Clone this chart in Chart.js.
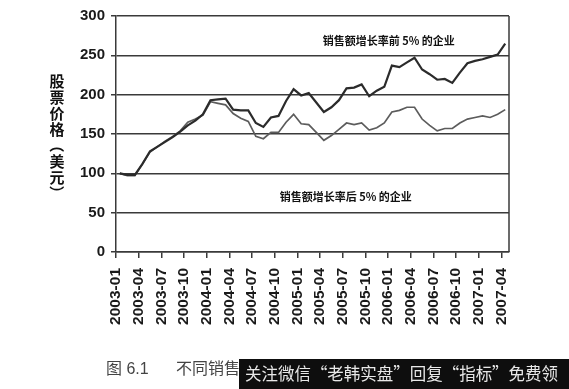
<!DOCTYPE html>
<html>
<head>
<meta charset="utf-8">
<script src="https://cdn.jsdelivr.net/npm/chart.js@4.4.1/dist/chart.umd.min.js"></script>
<style>
html, body { margin: 0; padding: 0; background: #fff; }
#chart { display: block; }
</style>
</head>
<body>
<canvas id="chart" width="569" height="389"></canvas>
<script>
const months = [
    '2003-01', '2003-02', '2003-03', '2003-04', '2003-05', '2003-06', '2003-07', '2003-08', '2003-09', '2003-10', '2003-11', '2003-12',
    '2004-01', '2004-02', '2004-03', '2004-04', '2004-05', '2004-06', '2004-07', '2004-08', '2004-09', '2004-10', '2004-11', '2004-12',
    '2005-01', '2005-02', '2005-03', '2005-04', '2005-05', '2005-06', '2005-07', '2005-08', '2005-09', '2005-10', '2005-11', '2005-12',
    '2006-01', '2006-02', '2006-03', '2006-04', '2006-05', '2006-06', '2006-07', '2006-08', '2006-09', '2006-10', '2006-11', '2006-12',
    '2007-01', '2007-02', '2007-03', '2007-04'
];

// top 5% sales growth firms
const topFirms = [
    100, 98, 98, 112, 128, 134, 140, 146, 153, 161, 167, 175,
    193, 194, 195, 181, 180, 180, 164, 159, 171, 173, 192, 207,
    199, 202, 190, 178, 184, 193, 208, 209, 213, 198, 205, 210,
    237, 235, 241, 247, 232, 226, 219, 220, 215, 228, 240, 243,
    245, 248, 251, 265
];

// bottom 5% sales growth firms
const bottomFirms = [
    100, 97, 97, 112, 127, 134, 141, 147, 154, 165, 169, 174,
    191, 189, 187, 176, 170, 166, 147, 144, 152, 152, 165, 175,
    163, 162, 152, 142, 148, 156, 164, 162, 164, 155, 158, 164,
    178, 180, 184, 184, 169, 161, 154, 157, 157, 164, 169, 171,
    173, 171, 175, 181
];

const yTitle = ['股', '票', '价', '格', '（', '美', '元', '）'];

// series notes, placed in data units (category index, price)
const notes = [
    { text: '销售额增长率前 5% 的企业', at: 35.6, value: 268 },
    { text: '销售额增长率后 5% 的企业', at: 29.9, value: 70 }
];

const caption = ['图 6.1', '不同销售'];
const banner = '关注微信“老韩实盘”回复“指标”免费领';

const gridColor = '#3a3a3a';
const tickFont = '"Liberation Sans", Arial, sans-serif';
const cjkFont = '"Noto Sans CJK SC", sans-serif';

const extraText = {
    id: 'extraText',
    afterDraw(chart) {
        const { ctx, chartArea, scales: { x, y } } = chart;
        ctx.save();

        // right frame line
        ctx.strokeStyle = gridColor;
        ctx.lineWidth = 1.5;
        ctx.beginPath();
        ctx.moveTo(chartArea.right, chartArea.top);
        ctx.lineTo(chartArea.right, chartArea.bottom);
        ctx.stroke();

        ctx.textAlign = 'center';
        ctx.textBaseline = 'middle';

        ctx.fillStyle = '#111';
        ctx.font = 'bold 11px ' + cjkFont;
        notes.forEach(n => {
            ctx.fillText(n.text, x.getPixelForValue(n.at), y.getPixelForValue(n.value));
        });

        // vertical axis title, stacked characters
        ctx.font = 'bold 15px ' + cjkFont;
        yTitle.forEach((ch, i) => {
            const cy = 81 + i * 16;
            if (ch === '（' || ch === '）') {
                ctx.save();
                ctx.translate(57, cy);
                ctx.rotate(Math.PI / 2);
                ctx.fillText(ch, 0, 0);
                ctx.restore();
            } else {
                ctx.fillText(ch, 57, cy);
            }
        });

        // figure caption
        ctx.textAlign = 'left';
        ctx.fillStyle = '#444';
        ctx.font = '16px "Liberation Sans", ' + cjkFont;
        ctx.fillText(caption[0], 106, 370);
        ctx.fillText(caption[1], 176, 370);

        // watermark banner
        ctx.fillStyle = '#0e0e0e';
        ctx.fillRect(239, 359, 330, 30);
        ctx.fillStyle = '#e8e8e8';
        ctx.font = '17px ' + cjkFont;
        ctx.fillText(banner, 245, 374, 313);

        ctx.restore();
    }
};

new Chart(document.getElementById('chart'), {
    type: 'line',
    data: {
        labels: months,
        datasets: [
            {
                label: notes[0].text,
                data: topFirms,
                borderColor: '#2b2b2b',
                borderWidth: 2.2,
                pointRadius: 0,
                tension: 0
            },
            {
                label: notes[1].text,
                data: bottomFirms,
                borderColor: '#5c5c5c',
                borderWidth: 1.7,
                pointRadius: 0,
                tension: 0
            }
        ]
    },
    options: {
        responsive: false,
        animation: false,
        devicePixelRatio: 1,
        layout: { padding: { top: 16, right: 60, left: 0, bottom: 0 } },
        plugins: {
            legend: { display: false },
            tooltip: { enabled: false }
        },
        scales: {
            x: {
                offset: true,
                grid: {
                    offset: true,
                    drawOnChartArea: false,
                    tickLength: 6,
                    lineWidth: 1.5,
                    color: c => c.index % 3 === 0 ? gridColor : 'rgba(0,0,0,0)'
                },
                border: { color: gridColor, width: 1.5 },
                ticks: {
                    autoSkip: false,
                    minRotation: 90,
                    maxRotation: 90,
                    padding: 10,
                    labelOffset: -3.8,
                    color: '#1a1a1a',
                    font: { family: tickFont, size: 15.5, weight: 'bold' },
                    callback: (v, i) => i % 3 === 0 ? months[i] : ''
                },
                afterFit: s => { s.height = 137; }
            },
            y: {
                min: 0,
                max: 300,
                ticks: {
                    stepSize: 50,
                    padding: 6,
                    color: '#1a1a1a',
                    font: { family: tickFont, size: 15, weight: 'bold' }
                },
                grid: { color: gridColor, lineWidth: 1.5, tickLength: 5 },
                border: { color: gridColor, width: 1.5 },
                afterFit: s => { s.width = 116; }
            }
        }
    },
    plugins: [extraText]
});
</script>
</body>
</html>
